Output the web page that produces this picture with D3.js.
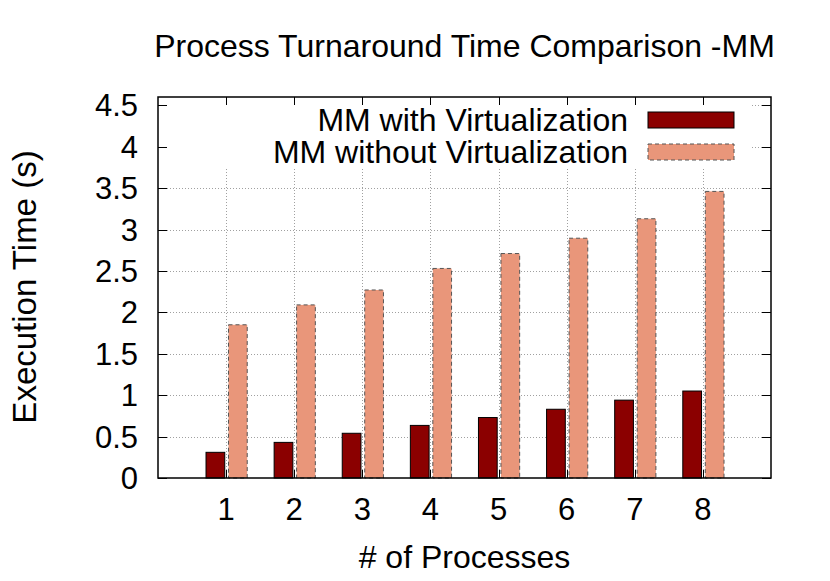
<!DOCTYPE html>
<html>
<head>
<meta charset="utf-8">
<script src="https://cdn.jsdelivr.net/npm/d3@7"></script>
<style>
  body { margin: 0; background: #fff; }
  text { font-family: "Liberation Sans", Arial, sans-serif; fill: #000; }
</style>
</head>
<body>
<script>
var categories = [1, 2, 3, 4, 5, 6, 7, 8];
var withVirt = [0.31, 0.43, 0.54, 0.635, 0.73, 0.83, 0.94, 1.05];
var withoutVirt = [1.85, 2.09, 2.27, 2.53, 2.71, 2.895, 3.13, 3.46];
var yTicks = [0, 0.5, 1, 1.5, 2, 2.5, 3, 3.5, 4, 4.5];
var seriesNames = ["MM with Virtualization", "MM without Virtualization"];

(function() {
  var width = 830, height = 581;
  var pLeft = 158, pRight = 771, pTop = 97, pBottom = 478;

  var svg = d3.select("body").append("svg")
    .attr("width", width)
    .attr("height", height);

  var x = d3.scaleLinear().domain([0, 9]).range([pLeft, pRight]);
  var y = d3.scaleLinear().domain([0, 4.6]).range([pBottom, pTop]);

  // grid
  var grid = svg.append("g")
    .attr("stroke", "#a0a0a0")
    .attr("stroke-width", 1)
    .attr("stroke-dasharray", "1,2");
  grid.selectAll(".gy").data(yTicks.slice(1)).enter().append("line")
    .attr("x1", pLeft).attr("x2", pRight)
    .attr("y1", function(d) { return Math.round(y(d)) + 0.5; })
    .attr("y2", function(d) { return Math.round(y(d)) + 0.5; });
  grid.selectAll(".gx").data(categories).enter().append("line")
    .attr("x1", function(d) { return Math.round(x(d)) + 0.5; })
    .attr("x2", function(d) { return Math.round(x(d)) + 0.5; })
    .attr("y1", pTop).attr("y2", pBottom);

  // opaque key box
  svg.append("rect")
    .attr("x", pLeft + 1).attr("y", pTop + 1)
    .attr("width", 751 - pLeft - 1)
    .attr("height", 168 - pTop - 1)
    .attr("fill", "#fff");

  // bars
  var bw = 0.275;
  svg.selectAll(".bar1").data(withVirt).enter().append("rect")
    .attr("x", function(d, i) { return x(categories[i] - 0.295); })
    .attr("y", function(d) { return y(d); })
    .attr("width", x(bw) - x(0))
    .attr("height", function(d) { return y(0) - y(d); })
    .attr("fill", "#8b0000")
    .attr("stroke", "#000")
    .attr("stroke-width", 1);

  svg.selectAll(".bar2").data(withoutVirt).enter().append("rect")
    .attr("x", function(d, i) { return x(categories[i] + 0.035); })
    .attr("y", function(d) { return y(d); })
    .attr("width", x(bw) - x(0))
    .attr("height", function(d) { return y(0) - y(d); })
    .attr("fill", "#e9967a")
    .attr("stroke", "#555")
    .attr("stroke-width", 1)
    .attr("stroke-dasharray", "4,3");

  // ticks (inward, mirrored)
  var tk = svg.append("g").attr("stroke", "#000").attr("stroke-width", 1);
  yTicks.forEach(function(t) {
    var yy = Math.round(y(t)) + 0.5;
    tk.append("line").attr("x1", pLeft).attr("x2", pLeft + 9).attr("y1", yy).attr("y2", yy);
    tk.append("line").attr("x1", pRight - 9).attr("x2", pRight).attr("y1", yy).attr("y2", yy);
  });
  categories.forEach(function(c) {
    var xx = Math.round(x(c)) + 0.5;
    tk.append("line").attr("x1", xx).attr("x2", xx).attr("y1", pBottom).attr("y2", pBottom - 8);
    tk.append("line").attr("x1", xx).attr("x2", xx).attr("y1", pTop).attr("y2", pTop + 8);
  });

  // border
  svg.append("rect")
    .attr("x", pLeft).attr("y", pTop)
    .attr("width", pRight - pLeft).attr("height", pBottom - pTop)
    .attr("fill", "none")
    .attr("stroke", "#000")
    .attr("stroke-width", 1.5);

  // tick labels
  svg.selectAll(".yl").data(yTicks).enter().append("text")
    .attr("x", pLeft - 20)
    .attr("y", function(d) { return y(d) + 11; })
    .attr("text-anchor", "end")
    .style("font-size", "31px")
    .text(function(d) { return d; });

  svg.selectAll(".xl").data(categories).enter().append("text")
    .attr("x", function(d) { return x(d); })
    .attr("y", 520)
    .attr("text-anchor", "middle")
    .style("font-size", "31px")
    .text(function(d) { return d; });

  // legend
  var keyRows = [
    { name: seriesNames[0], fill: "#8b0000", stroke: "#000", dash: null, cy: 120 },
    { name: seriesNames[1], fill: "#e9967a", stroke: "#555", dash: "4,3", cy: 152 }
  ];
  keyRows.forEach(function(k) {
    svg.append("text")
      .attr("x", 628).attr("y", k.cy + 11)
      .attr("text-anchor", "end")
      .style("font-size", "32px")
      .text(k.name);
    svg.append("rect")
      .attr("x", 648).attr("y", k.cy - 8)
      .attr("width", 86).attr("height", 16)
      .attr("fill", k.fill)
      .attr("stroke", k.stroke)
      .attr("stroke-dasharray", k.dash);
  });

  // title and axis labels
  svg.append("text")
    .attr("x", (pLeft + pRight) / 2).attr("y", 57)
    .attr("text-anchor", "middle")
    .style("font-size", "32px")
    .text("Process Turnaround Time Comparison -MM");

  svg.append("text")
    .attr("x", (pLeft + pRight) / 2).attr("y", 568)
    .attr("text-anchor", "middle")
    .style("font-size", "32px")
    .text("# of Processes");

  svg.append("text")
    .attr("transform", "translate(36,287) rotate(-90)")
    .attr("text-anchor", "middle")
    .style("font-size", "33px")
    .text("Execution Time (s)");
})();
</script>
</body>
</html>
